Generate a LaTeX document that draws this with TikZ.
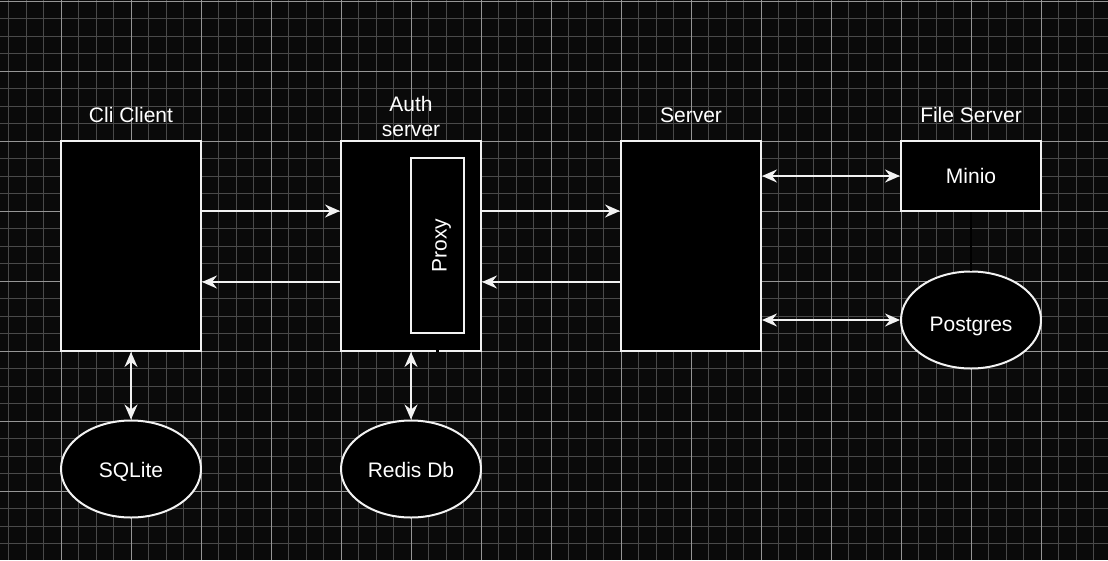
\documentclass[tikz,border=0pt]{standalone}
\usepackage{fontspec}
\setmainfont{Liberation Sans}
\usetikzlibrary{arrows.meta,shapes.geometric}
\definecolor{bgc}{HTML}{0A0A0A}
\definecolor{gridminor}{HTML}{4A4A4A}
\definecolor{gridmajor}{HTML}{969696}
\definecolor{ink}{HTML}{F2F2F2}
\begin{document}
\begin{tikzpicture}[x=1pt,y=-1pt,
  lblfont/.style={font=\fontsize{21}{25}\selectfont},
  box/.style={draw=ink, fill=black, line width=2pt, minimum width=140pt, inner sep=0pt, text=white, lblfont},
  db/.style={ellipse, draw=ink, fill=black, line width=2pt, minimum width=140pt, minimum height=97pt, inner sep=0pt, text=white, lblfont, text depth=0pt},
  lbl/.style={text=white, lblfont, inner sep=0pt},
  tipA/.tip={Stealth[length=15pt,width=13pt,inset=5pt]},
  link/.style={draw=ink, line width=2pt, -tipA},
  bothlink/.style={draw=ink, line width=2pt, tipA-tipA},
  hiddenlink/.style={draw=black, line width=2.5pt}]
\fill[bgc] (0,0) rectangle (1108,560);
\useasboundingbox (0,0) rectangle (1108,560);
% grid
\foreach \i in {0,...,62} {\pgfmathsetmacro\xx{8.5+17.5*\i}\draw[gridminor, line width=1pt] (\xx,0) -- (\xx,560);}
\foreach \i in {0,...,31} {\pgfmathsetmacro\yy{1+17.5*\i}\draw[gridminor, line width=1pt] (0,\yy) -- (1108,\yy);}
\foreach \i in {0,...,14} {\pgfmathsetmacro\xx{61+70*\i}\draw[gridmajor, line width=1pt] (\xx,0) -- (\xx,560);}
\foreach \i in {0,...,7} {\pgfmathsetmacro\yy{1+70*\i}\draw[gridmajor, line width=1pt] (0,\yy) -- (1108,\yy);}

% boxes
\node[box, minimum height=210pt] (cli) at (131,246) {};
\node[box, minimum height=210pt] (auth) at (411,246) {};
\node[box, minimum height=210pt] (server) at (691,246) {};
\node[box, minimum height=70pt, text height=14pt, text depth=0pt] (minio) at (971,176) {Minio};
\node[draw=ink, fill=black, line width=2pt, inner sep=0pt, rotate=90, minimum width=175pt, minimum height=53pt, text=white, lblfont, text height=18pt, text depth=0pt] (proxy) at (437.5,245.8) {Proxy};

% ellipses
\node[db, text height=23.4pt] (postgres) at (971,320) {Postgres};
\node[db, text height=16.6pt] (sqlite) at (131,469) {SQLite};
\node[db, text height=16.6pt] (redis) at (411,469) {Redis Db};

% titles
\node[lbl, anchor=base] (clil) at (131,122) {Cli Client};
\node[lbl, align=center] (authl) at (411,116) {Auth\\server};
\node[lbl, anchor=base] (serverl) at (691,122) {Server};
\node[lbl, anchor=base] (filel) at (971,122) {File Server};

% connectors
\draw[link] ([yshift=35pt]cli.east) -- ([yshift=35pt]auth.west);
\draw[link] ([yshift=-36pt]auth.west) -- ([yshift=-36pt]cli.east);
\draw[link] ([yshift=35pt]auth.east) -- ([yshift=35pt]server.west);
\draw[link] ([yshift=-36pt]server.west) -- ([yshift=-36pt]auth.east);
\draw[bothlink] (minio.west -| server.east) -- (minio.west);
\draw[bothlink] (postgres.west -| server.east) -- (postgres.west);
\draw[bothlink] (cli.south) -- (sqlite.north);
\draw[bothlink] (auth.south) -- (redis.north);
\draw[hiddenlink] (minio.south) -- (postgres.north);
\draw[hiddenlink] (proxy.west) -- (proxy.west |- auth.south);
\end{tikzpicture}
\end{document}
